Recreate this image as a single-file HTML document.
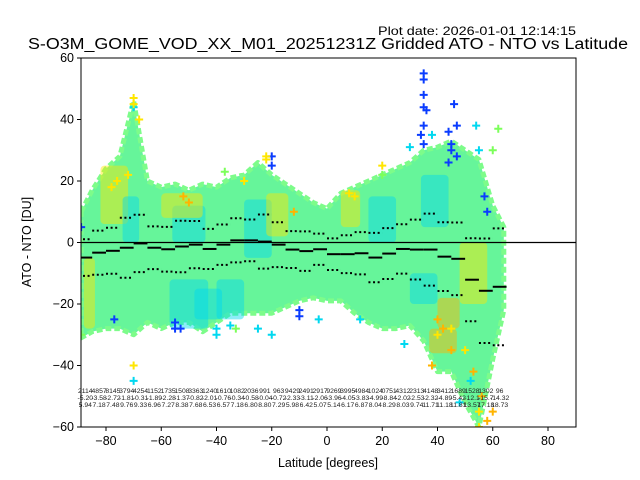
<!DOCTYPE html>
<html><head><meta charset="utf-8"><style>
body{margin:0;background:#fff;width:640px;height:480px;overflow:hidden;font-family:"Liberation Sans","DejaVu Sans",sans-serif}
svg{display:block}
</style></head><body>
<svg id="chart" width="640" height="480" xmlns="http://www.w3.org/2000/svg">
<text x="378" y="35" textLength="198" lengthAdjust="spacingAndGlyphs" font-size="12">Plot date: 2026-01-01 12:14:15</text>
<text x="28" y="49" textLength="600" lengthAdjust="spacingAndGlyphs" font-size="15.5">S-O3M_GOME_VOD_XX_M01_20251231Z Gridded ATO - NTO vs Latitude</text>
<g id="plot"></g>
<g id="axes"></g>
<text x="328" y="467" text-anchor="middle" font-size="12.5">Latitude [degrees]</text>
<text x="0" y="0" transform="translate(31,242) rotate(-90)" text-anchor="middle" font-size="12.5">ATO - NTO [DU]</text>
</svg>
<script>
const binStarts=[-90,-85,-80,-75,-70,-65,-60,-55,-50,-45,-40,-35,-30,-25,-20,-15,-10,-5,0,5,10,15,20,25,30,35,40,45,50,55,60];
const means=[-4.9,-3.3,-2.7,-1.7,-0.3,-1.7,-2.2,-1.3,-0.7,-2.1,-0.7,0.7,0.7,0.3,-0.7,-2.3,-2.8,-2.2,-3.8,-3.8,-3.5,-4.9,-3.6,-2.1,-2.3,-2.3,-4.6,-5.3,-12.1,-15.7,-14.4];
const stds=[5.94,7.18,7.48,9.76,9.33,6.96,7.27,8.38,7.68,6.53,6.57,7.18,6.80,8.80,7.29,5.98,6.42,5.07,5.14,6.17,6.87,8.04,8.29,8.03,9.74,11.71,11.18,11.81,13.5,17.0,19.0];
const counts=["2114","4857","8145","3794","4254","1152","1735","1508","3363","1240","1610","1082","2036","991","963","9429","2491","2917","9269","3995","4984","1024","0751","4312","2313","4148","3412","1689","1528","1302","96"];
const meanLabels=["-5.20","-3.58","-2.72","-1.81","-0.31","-1.89","-2.28","-1.37","-0.82","-2.01","-0.76","-0.34","-0.58","-0.04","-0.72","-2.33","-3.11","-2.06","-3.96","-4.05","-3.83","-4.99","-8.84","-2.02","-2.53","-2.32","-4.89","-5.42","-12.1","-15.7","-14.32"];
const stdLabels=["5.94","7.18","7.48","9.76","9.33","6.96","7.27","8.38","7.68","6.53","6.57","7.18","6.80","8.80","7.29","5.98","6.42","5.07","5.14","6.17","6.87","8.04","8.29","8.03","9.74","11.71","11.18","11.81","13.57","17.18","18.73"];
const envLat=[-89,-85,-80,-75,-70,-65,-60,-55,-50,-45,-40,-35,-30,-25,-20,-15,-10,-5,0,5,10,15,20,25,30,35,40,45,50,55,60,64];
const envUpper=[10,17,24,28,46,20,18,19,17,19,18,21,22,26,22,19,16,13,11,16,18,20,22,24,26,30,31,33,30,27,12,5];
const envLower=[-31,-29,-28,-28,-30,-26,-28,-26,-26,-29,-26,-23,-23,-23,-23,-21,-19,-18,-19,-19,-23,-26,-28,-28,-27,-32,-42,-42,-52,-60,-38,-22];
// colored patches: [latFrom, latTo, valFrom, valTo, colorIndex]
const patchLat0=[-82,-74,-56,-57,-40,-30,-22,5,15,34,40,-60,-48,30,37,48,-88];
const patchLat1=[-72,-68,-44,-43,-30,-20,-14,12,25,44,48,-45,-38,40,47,58,-84];
const patchVal0=[6,0,0,-28,-25,-5,2,5,0,5,-28,8,-25,-20,-36,-20,-28];
const patchVal1=[25,15,12,-12,-12,14,16,17,15,22,-18,16,-15,-10,-28,0,-5];
const patchCat=[2,1,1,1,1,1,2,2,1,1,3,2,1,1,3,2,2];
const ptsLat=[35,35,35,35,36,35,34,35,44,46,47,45,45,47,44,-20,-20,-10,-10,-55,-55,-53,-77,58,57,-89,
 -70,-70,38,54,55,30,28,-3,12,-40,-35,-40,-20,-25,48,52,
 -70,-70,-68,-22,-22,-76,-78,-72,-30,8,10,20,-70,40,45,50,55,55,
 -52,-50,-12,40,42,38,45,53,56,58,60,
 62,60,-37,20,-33,-89];
const ptsVal=[55,53,48,44,43,38,35,32,36,45,38,32,30,28,26,28,25,-22,-24,-28,-26,-28,-25,10,15,5,
 44,-45,35,38,30,31,-33,-25,-25,-28,-27,-30,-30,-28,-52,-45,
 47,45,40,28,27,20,18,22,20,16,15,25,-40,-30,-28,-35,-55,-60,
 15,13,10,-25,-28,-40,-35,-42,-50,-58,-55,
 37,30,23,22,-28,-30];
const ptsCat=[0,0,0,0,0,0,0,0,0,0,0,0,0,0,0,0,0,0,0,0,0,0,0,0,0,0,
 1,1,1,1,1,1,1,1,1,1,1,1,1,1,1,1,
 2,2,2,2,2,2,2,2,2,2,2,2,2,2,2,2,2,2,
 3,3,3,3,3,3,3,3,3,3,3,
 4,4,4,4,4,4];
const catColors=["#0a3cff","#00d8f0","#ffe600","#ffb400","#7cff5a"];
const xTicks=[-80,-60,-40,-20,0,20,40,60,80];
const yTicks=[-60,-40,-20,0,20,40,60];

const X0=81,X1=576,Y0=58,Y1=427;
const xs=v=>327+v*2.7625;
const ys=v=>242.5-v*3.075;
const NS="http://www.w3.org/2000/svg";
function mk(tag,attrs,parent){const e=document.createElementNS(NS,tag);for(const k in attrs)e.setAttribute(k,attrs[k]);parent.appendChild(e);return e;}
const plot=document.getElementById('plot');
const axes=document.getElementById('axes');
const defs=mk('defs',{},plot);
const cp=mk('clipPath',{id:'clip'},defs);
mk('rect',{x:X0,y:Y0,width:X1-X0,height:Y1-Y0},cp);
const g=mk('g',{'clip-path':'url(#clip)'},plot);



let d='';
envLat.forEach((la,i)=>{d+=(i?'L':'M')+xs(la)+','+ys(envUpper[i]);});
for(let i=envLat.length-1;i>=0;i--)d+='L'+xs(envLat[i])+','+ys(envLower[i]);
const env=mk('path',{d:d+'Z',fill:'#66f59a',stroke:'#7dfc8a','stroke-width':5,'stroke-linejoin':'round','stroke-dasharray':'6,3'},g);



patchLat0.forEach((a,i)=>{
  const r=mk('rect',{x:xs(a),y:ys(patchVal1[i]),width:xs(patchLat1[i])-xs(a),height:ys(patchVal0[i])-ys(patchVal1[i]),fill:catColors[patchCat[i]],opacity:0.45,rx:4},g);
  
  
});

ptsLat.forEach((la,i)=>{
  const cx=xs(la),cy=ys(ptsVal[i]),c=catColors[ptsCat[i]];
  const p=mk('path',{d:`M${cx-4},${cy}H${cx+4}M${cx},${cy-4}V${cy+4}`,stroke:c,'stroke-width':2},g);
  
  
});

const zl=mk('line',{x1:X0,x2:X1,y1:ys(0),y2:ys(0),stroke:'#000','stroke-width':1.2},g);



binStarts.forEach((b,i)=>{
  const xa=xs(b),xb=xs(b+5);
  const m=mk('line',{x1:xa,x2:xb,y1:ys(means[i]),y2:ys(means[i]),stroke:'#000','stroke-width':2},g);
  
  
  [means[i]+stds[i],means[i]-stds[i]].forEach(v=>{
    const s=mk('line',{x1:xa,x2:xb,y1:ys(v),y2:ys(v),stroke:'#000','stroke-width':2,'stroke-dasharray':'2,2.6'},g);
    
    
  });
  const cx=xs(b+2.5);
  [[counts[i],393],[meanLabels[i],400],[stdLabels[i],407]].forEach(([t,y])=>{
    const tx=mk('text',{x:cx,y:y,'text-anchor':'middle','font-size':6.8,fill:'#222'},plot);
    tx.textContent=t;
    
    
  });
});

const fr=mk('rect',{x:X0,y:Y0,width:X1-X0,height:Y1-Y0,fill:'none',stroke:'#000','stroke-width':1},axes);


xTicks.forEach(t=>{
  const x=xs(t);
  const l=mk('line',{x1:x,x2:x,y1:Y1,y2:Y1+4,stroke:'#000'},axes);
  
  
  const tx=mk('text',{x:x,y:Y1+18,'text-anchor':'middle','font-size':12.5},axes);
  tx.textContent=(t<0?'\u2212':'')+Math.abs(t);
  
  
});
yTicks.forEach(t=>{
  const y=ys(t);
  const l=mk('line',{x1:X0-4,x2:X0,y1:y,y2:y,stroke:'#000'},axes);
  
  
  const tx=mk('text',{x:X0-7,y:y+4,'text-anchor':'end','font-size':12.5},axes);
  tx.textContent=(t<0?'\u2212':'')+Math.abs(t);
  
  
});
</script>
</body></html>
